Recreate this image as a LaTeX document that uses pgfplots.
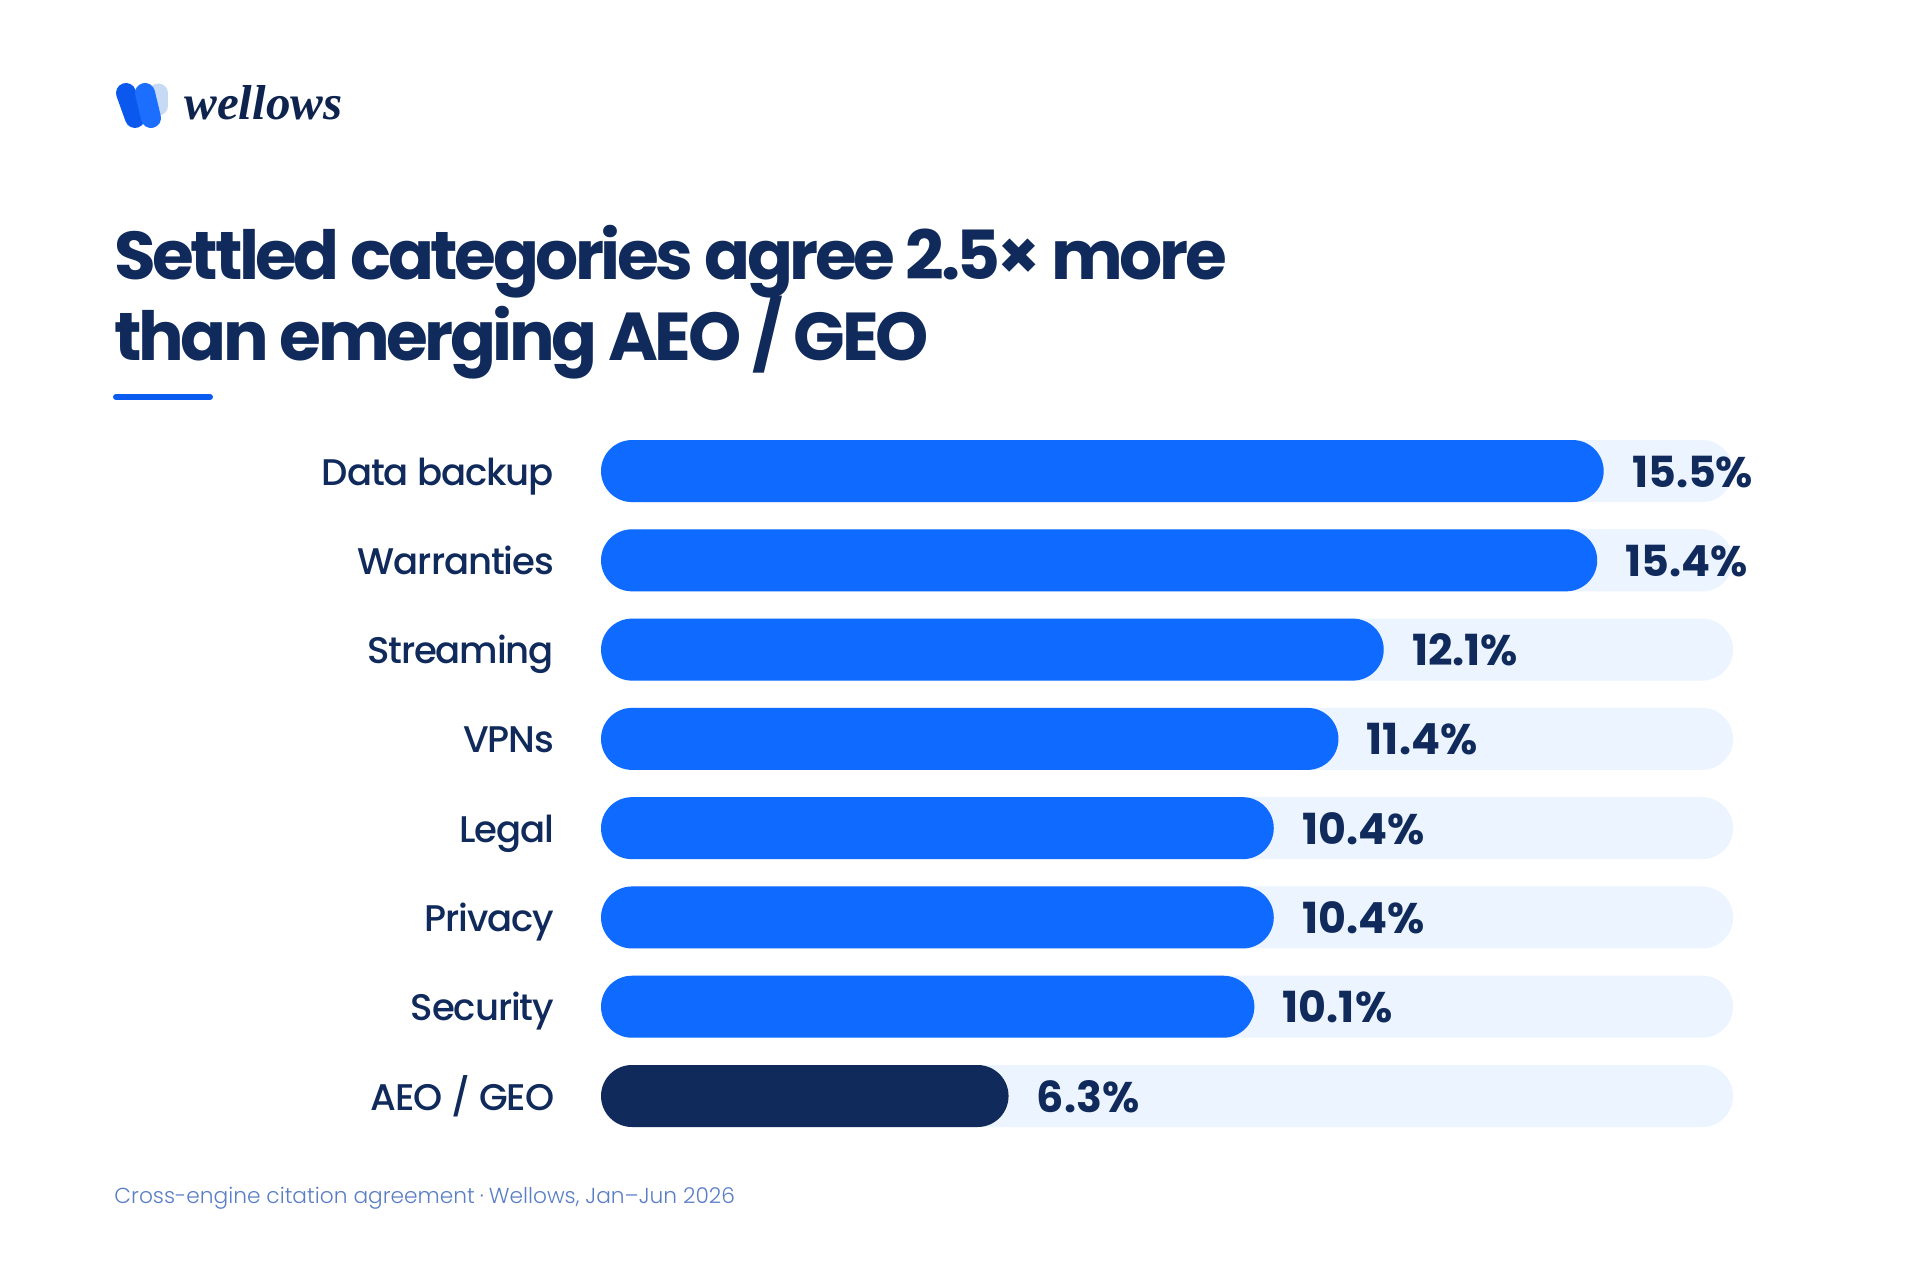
\documentclass[border=0pt]{standalone}
\usepackage{fontspec}
\setmainfont{Poppins}
\newfontfamily\titlefont{Poppins}[LetterSpace=-5.1]
\newfontfamily\medfont{Poppins Medium}[LetterSpace=-3]
\newfontfamily\lightfont{Poppins Light}[Ligatures=TeX]
\newfontfamily\logofont{Liberation Serif}
\usepackage{pgfplots}
\pgfplotsset{compat=1.18}

\definecolor{navy}{HTML}{102A5C}
\definecolor{barblue}{HTML}{0F6AFF}
\definecolor{track}{HTML}{EBF4FF}
\definecolor{accent}{HTML}{0A5CF0}
\definecolor{footer}{HTML}{5A7EC6}
\definecolor{logodark}{HTML}{0A58EE}
\definecolor{logomid}{HTML}{1C6EFF}
\definecolor{logolight}{HTML}{C6D9F5}

\begin{document}
\begin{tikzpicture}[x=0.5bp,y=-0.5bp]
% canvas, 1920 x 1280 units
\fill[white] (0,0) rectangle (1920,1280);
\useasboundingbox (0,0) rectangle (1920,1280);

% logo mark
\draw[logolight, line width=9.5bp, line cap=round] (158,93) -- (158,106);
\draw[logodark, line width=10bp, line cap=round] (126,93) -- (135,118);
\draw[logomid, line width=10bp, line cap=round] (145,93) -- (151,118);
\node[anchor=base west, inner sep=0pt, text=navy!85!black,
      font=\logofont\bfseries\itshape\fontsize{24.6}{24.6}\selectfont] at (184,120) {wellows};

% title
\node[anchor=base west, inner sep=0pt, text=navy,
      font=\titlefont\bfseries\fontsize{34}{34}\selectfont] at (114,280) {Settled categories agree 2.5× more};
\node[anchor=base west, inner sep=0pt, text=navy,
      font=\titlefont\bfseries\fontsize{34}{34}\selectfont] at (114,360) {than emerging AEO / GEO};
\draw[accent, line width=3bp, line cap=round] (116,397) -- (210,397);

% footer
\node[anchor=base west, inner sep=0pt, text=footer,
      font=\lightfont\fontsize{10.9}{10.9}\selectfont] at (114,1203)
      {Cross-engine citation agreement\hspace{2.5bp}·\hspace{2.5bp}Wellows, Jan–Jun 2026};

\begin{axis}[
  at={(300.5bp,-213.2bp)}, anchor=north west,
  scale only axis, width=566bp, height=357.1bp,
  xmin=0, xmax=17.5, ymin=-0.5, ymax=7.5, y dir=reverse,
  xbar, bar width=31bp, bar shift=0pt,
  axis line style={draw=none},
  xtick=\empty, ytick={0,...,7},
  yticklabels={Data backup,Warranties,Streaming,VPNs,Legal,Privacy,Security,AEO / GEO},
  major tick length=0pt,
  yticklabel style={anchor=base east, inner sep=0pt, xshift=-23.3bp, yshift=-7bp,
                    font=\medfont\fontsize{18.6}{18.6}\selectfont, text=navy},
  clip=false,
  point meta=x,
  value label/.style={
    nodes near coords={\pgfmathprintnumber[assume math mode=true,fixed,fixed zerofill,precision=1]{\pgfplotspointmeta}\%},
    every node near coord/.append style={anchor=base west, inner sep=0pt, xshift=14bp, yshift=-8bp,
        text=navy, font=\bfseries\fontsize{21.5}{21.5}\selectfont}},
]
% background tracks
\addplot[fill=track, draw=none, rounded corners=15.5bp] coordinates
  {(17.5,0) (17.5,1) (17.5,2) (17.5,3) (17.5,4) (17.5,5) (17.5,6) (17.5,7)};
% settled categories
\addplot[fill=barblue, draw=none, rounded corners=15.5bp, value label] coordinates
  {(15.5,0) (15.4,1) (12.1,2) (11.4,3) (10.4,4) (10.4,5) (10.1,6)};
% emerging category
\addplot[fill=navy, draw=none, rounded corners=15.5bp, value label] coordinates
  {(6.3,7)};
\end{axis}
\end{tikzpicture}
\end{document}
